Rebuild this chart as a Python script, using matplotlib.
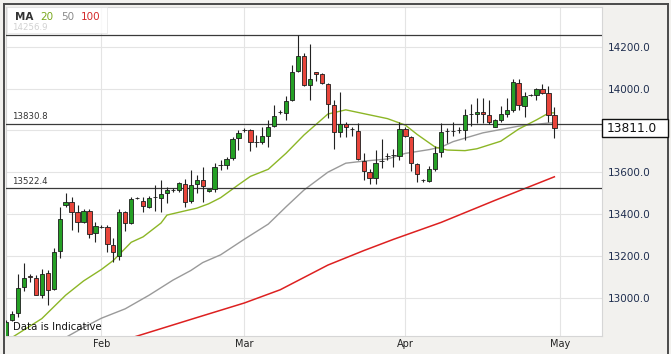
import matplotlib
matplotlib.use("Agg")
import matplotlib.pyplot as plt
from matplotlib.patches import Rectangle
from matplotlib.lines import Line2D

# daily candles (one per trading session, Sun-Fri)
opens = [12815, 12892, 12927, 13049, 13104, 13092, 13012, 13116, 13041, 13224,
         13443, 13456, 13408, 13363, 13416, 13308, 13339, 13339, 13252, 13199,
         13411, 13356, 13475, 13464, 13435, 13480, 13478, 13499, 13515, 13515,
         13544, 13462, 13542, 13563, 13510, 13520, 13635, 13635, 13667, 13763,
         13802, 13802, 13744, 13744, 13775, 13822, 13887, 13885, 13943, 14082,
         14157, 14015, 14077, 14071, 14021, 13919, 13791, 13831, 13807, 13798,
         13654, 13603, 13571, 13654, 13676, 13683, 13676, 13805, 13767, 13639,
         13563, 13560, 13614, 13697, 13798, 13798, 13802, 13801, 13879, 13878,
         13887, 13874, 13818, 13850, 13878, 13898, 14026, 13917, 13970, 13967,
         13997, 13978, 13871]
highs = [12892, 12935, 13113, 13165, 13113, 13108, 13135, 13132, 13236, 13435,
         13502, 13483, 13443, 13424, 13424, 13363, 13347, 13347, 13284, 13423,
         13414, 13483, 13480, 13480, 13486, 13539, 13563, 13531, 13526, 13555,
         13566, 13611, 13587, 13624, 13522, 13643, 13659, 13675, 13770, 13802,
         13810, 13807, 13779, 13818, 13850, 13922, 13898, 13962, 14114, 14256.9,
         14170, 14213, 14078, 14074, 14026, 13946, 13981, 13842, 13818, 13835,
         13694, 13614, 13707, 13758, 13690, 13709, 13842, 13818, 13774, 13646,
         13568, 13631, 13726, 13837, 13813, 13838, 13817, 13903, 13928, 13954,
         13957, 13946, 13854, 13917, 13954, 14045, 14045, 13981, 13975, 14002,
         14023, 14010, 13914]
lows = [12790, 12890, 12908, 13031, 13076, 13012, 12999, 12964, 13036, 13188,
        13435, 13323, 13312, 13357, 13284, 13267, 13332, 13220, 13172, 13180,
        13319, 13350, 13470, 13411, 13427, 13416, 13411, 13451, 13507, 13507,
        13435, 13451, 13499, 13459, 13505, 13504, 13611, 13614, 13659, 13707,
        13794, 13699, 13722, 13735, 13722, 13815, 13879, 13850, 13938, 14077,
        14010, 13943, 14037, 14023, 13859, 13711, 13768, 13768, 13774, 13659,
        13563, 13544, 13544, 13619, 13659, 13625, 13659, 13766, 13605, 13555,
        13555, 13555, 13605, 13672, 13739, 13772, 13788, 13755, 13822, 13835,
        13835, 13831, 13815, 13842, 13866, 13890, 13895, 13866, 13965, 13946,
        13973, 13842, 13763]
closes = [12884, 12924, 13047, 13095, 13098, 13015, 13111, 13039, 13219, 13375,
          13456, 13411, 13363, 13416, 13304, 13344, 13339, 13255, 13218, 13411,
          13356, 13471, 13475, 13438, 13475, 13480, 13494, 13515, 13515, 13547,
          13459, 13539, 13563, 13534, 13518, 13627, 13635, 13662, 13759, 13787,
          13802, 13742, 13744, 13774, 13818, 13870, 13887, 13941, 14079, 14157,
          14015, 14045, 14069, 14026, 13926, 13791, 13830, 13818, 13807, 13662,
          13608, 13571, 13646, 13654, 13676, 13683, 13808, 13772, 13644, 13593,
          13563, 13617, 13691, 13791, 13798, 13798, 13802, 13873, 13879, 13887,
          13878, 13842, 13850, 13878, 13898, 14029, 13922, 13965, 13970, 13997,
          13978, 13874, 13811.0]

month_pos = [16, 40, 67, 93]
month_labels = ["Feb", "Mar", "Apr", "May"]

# moving averages, sampled off the chart at candle positions
ma20_idx = [0, 2, 6, 10, 13, 16, 18, 21, 23, 26, 27, 30, 32, 34, 36, 39, 41, 44,
            47, 50, 54, 57, 61, 64, 67, 69, 72, 74, 77, 79, 83, 86, 89, 91, 92]
ma20_val = [12792, 12828, 12900, 13012, 13080, 13135, 13178, 13265, 13291, 13357,
            13395, 13415, 13428, 13449, 13478, 13540, 13580, 13614, 13691, 13778,
            13878, 13898, 13874, 13856, 13825, 13780, 13720, 13706, 13703, 13712,
            13748, 13806, 13850, 13882, 13884]
ma50_idx = [8, 10, 13, 16, 20, 24, 28, 31, 33, 36, 40, 44, 47, 50, 54, 57, 60, 64,
            67, 71, 73, 75, 80, 86, 91, 92]
ma50_val = [12778, 12810, 12858, 12902, 12947, 13012, 13084, 13130, 13168, 13205,
            13280, 13352, 13435, 13515, 13600, 13643, 13653, 13663, 13690, 13708,
            13720, 13746, 13788, 13820, 13835, 13836]
ma100_idx = [21, 32, 36, 40, 46, 54, 60, 65, 73, 82, 92]
ma100_val = [12808, 12905, 12940, 12975, 13038, 13156, 13225, 13279, 13360, 13465, 13578]

levels = [14256.9, 13830.8, 13522.4]
last_price = 13811.0
price_ticks = [13000, 13200, 13400, 13600, 13800, 14000, 14200]

W, H = 671, 354
fig = plt.figure(figsize=(W / 100, H / 100), dpi=100)
fig.patch.set_facecolor("#f2f1ee")


def fx(px):
    return px / W


def fy(py):
    return 1 - py / H


ax = fig.add_axes([fx(5.5), fy(336), fx(602 - 5.5), (336 - 6.5) / H])
ax.set_facecolor("white")
ax.set_xlim(-0.09, 99.99)
ax.set_ylim(12817, 14392)

# grid
for p in price_ticks:
    ax.axhline(p, color="#e4e4e4", lw=0.8, zorder=0)
for m in month_pos:
    ax.axvline(m, color="#e4e4e4", lw=0.8, zorder=0)

# moving averages
ax.plot(ma100_idx, ma100_val, color="#dd2020", lw=1.1, zorder=2)
ax.plot(ma50_idx, ma50_val, color="#9a9a9a", lw=1.0, zorder=2)
ax.plot(ma20_idx, ma20_val, color="#8cb626", lw=1.0, zorder=2)

# level lines
for lv in levels:
    ax.axhline(lv, color="#3a3a3a", lw=0.9, zorder=3)
    ax.annotate(f"{lv:.1f}", xy=(0.011, lv), xycoords=("axes fraction", "data"),
                xytext=(0, 5), textcoords="offset points", va="center", ha="left",
                fontsize=6.2, color="#333333", zorder=3)

# candles
x = list(range(len(opens)))
colors = []
for o, c in zip(opens, closes):
    if c > o:
        colors.append("#25a025")
    elif c < o:
        colors.append("#e8453b")
    else:
        colors.append("#222222")
ax.vlines(x, lows, highs, color="#222222", lw=0.8, zorder=4)
bottoms = [min(o, c) for o, c in zip(opens, closes)]
heights = [abs(c - o) for o, c in zip(opens, closes)]
ax.bar(x, heights, bottom=bottoms, width=0.72, color=colors, edgecolor="#1d1d1d",
       linewidth=0.6, zorder=5)

# axes; the 13800 label sits under the last-price box, so it is left blank
ax.yaxis.tick_right()
ax.set_yticks(price_ticks)
ax.set_yticklabels(["" if p == 13800 else f"{p:.1f}" for p in price_ticks])
ax.set_xticks(month_pos)
ax.set_xticklabels(month_labels)
ax.tick_params(axis="y", length=0, pad=4.3, labelsize=7.5, labelcolor="#1f2e4f")
ax.tick_params(axis="x", length=0, pad=2.5, labelsize=7, labelcolor="#222222")
for s in ax.spines.values():
    s.set_color("#d6d6d6")
    s.set_linewidth(0.8)

# outer frame
for xs, ys in [((4, 668), (4, 4)), ((4, 4), (4, 354)), ((668, 668), (4, 354))]:
    fig.add_artist(Line2D([fx(xs[0]), fx(xs[1])], [fy(ys[0]), fy(ys[1])],
                          color="#4a4a4a", lw=1.4, transform=fig.transFigure))

# MA legend box
fig.add_artist(Rectangle((fx(6.5), fy(33)), fx(100), (33 - 6.5) / H,
                         transform=fig.transFigure, facecolor="white", alpha=0.78,
                         edgecolor="#e2e2e2", lw=0.6, zorder=2))
fig.text(fx(15), fy(17.5), "MA", fontsize=7.5, fontweight="bold", color="#333333",
         va="center", zorder=3)
fig.text(fx(40.7), fy(17.5), "20", fontsize=7.5, color="#7aa81e", va="center", zorder=3)
fig.text(fx(60.7), fy(17.5), "50", fontsize=7.5, color="#8a8a8a", va="center", zorder=3)
fig.text(fx(80.7), fy(17.5), "100", fontsize=7.5, color="#d42a2a", va="center", zorder=3)

fig.text(fx(12.7), fy(326.7), "Data is Indicative", fontsize=7.3, color="#111111",
         va="center", zorder=3)

# last price box
py = 46.7 + (14200 - last_price) * 0.20917
fig.add_artist(Rectangle((fx(602), fy(py + 9)), fx(66), 18 / H,
                         transform=fig.transFigure, facecolor="white",
                         edgecolor="#111111", lw=1.0, zorder=2))
fig.text(fx(606.7), fy(py), f"{last_price:.1f}", fontsize=8.7, color="#111111",
         va="center", ha="left", zorder=3)

fig.savefig("out.png", dpi=100, facecolor=fig.get_facecolor())
